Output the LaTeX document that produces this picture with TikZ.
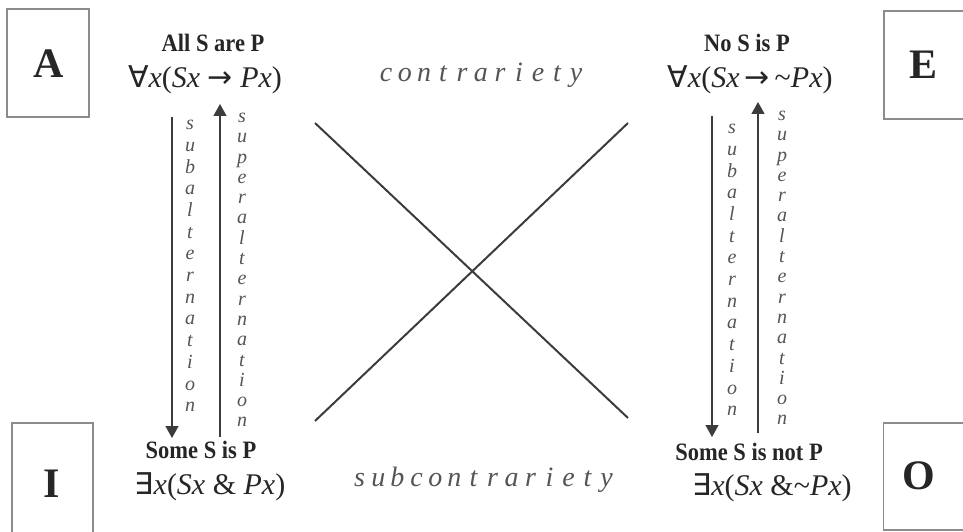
\documentclass[tikz,border=0pt]{standalone}
\usepackage{fontspec}
\usetikzlibrary{arrows.meta}
\setmainfont{Liberation Serif}
\newfontfamily\symfont{DejaVu Sans}
\definecolor{boxgray}{RGB}{140,140,140}
\definecolor{inkgray}{RGB}{60,60,60}
\definecolor{lettergray}{RGB}{85,85,85}
\newcommand{\spreadword}[1]{\foreach \ch in {#1}{\makebox[19pt]{\ch}}}

\begin{document}
\begin{tikzpicture}[x=1pt, y=-1pt, >={Triangle[width=13pt,length=12pt]},
	cornerbox/.style={draw=boxgray, line width=1.5pt, minimum width=82pt, minimum height=108pt, inner sep=0pt},
	cornerletter/.style={font=\fontsize{42}{42}\selectfont\bfseries, text=black!85, inner sep=0pt},
	statement/.style={font=\fontsize{25}{25}\selectfont\bfseries, text=black!85, inner sep=0pt, xscale=0.9},
	formula/.style={font=\fontsize{30}{30}\selectfont, text=black!85, inner sep=0pt},
	relation/.style={font=\fontsize{28}{28}\selectfont\itshape, text=lettergray, inner sep=0pt},
	vword/.style={font=\fontsize{20}{21.7}\selectfont\itshape, text=lettergray, align=center, inner sep=0pt},
	vline/.style={inkgray, line width=1.4pt},
	xline/.style={inkgray, line width=2pt}]
	
	\useasboundingbox (0,0) rectangle (963,532);
	
	% corner boxes
	\node[cornerbox] (boxA) at (48,63) {};
	\node[cornerbox] (boxE) at (925,65) {};
	\node[cornerbox, minimum width=81pt, minimum height=110pt] (boxI) at (52.5,478) {};
	\node[cornerbox, minimum height=107pt] (boxO) at (924.5,476.5) {};
	\node[cornerletter] (letA) at (49,64) {A};
	\node[cornerletter] (letE) at (923,65) {E};
	\node[cornerletter] (letI) at (52,484) {I};
	\node[cornerletter] (letO) at (919,476) {O};
	
	% statements
	\node[statement, transform shape] (textA) at (213,43) {All S are P};
	\node[statement, transform shape] (textE) at (747,43) {No S is P};
	\node[statement, transform shape] (textI) at (201,450) {Some S is P};
	\node[statement, transform shape] (textO) at (749,452) {Some S is not P};
	
	% formulas
	\node[formula] (formA) at (205,80) {{\symfont ∀}\textit{x}(\textit{Sx} {\symfont →} \textit{Px})};
	\node[formula] (formE) at (750,80) {{\symfont ∀}\textit{x}(\textit{Sx}\,{\symfont →}\,\textasciitilde\textit{Px})};
	\node[formula] (formI) at (210,487) {{\symfont ∃}\textit{x}(\textit{Sx} \& \textit{Px})};
	\node[formula] (formO) at (772,488) {{\symfont ∃}\textit{x}(\textit{Sx} \&\textasciitilde\textit{Px})};
	
	% relations
	\node[relation] (contra) at (481,75) {\spreadword{c,o,n,t,r,a,r,i,e,t,y}};
	\node[relation] (subcontra) at (483,480) {\spreadword{s,u,b,c,o,n,t,r,a,r,i,e,t,y}};
	
	% diagonals
	\coordinate (xA) at (315,123);
	\coordinate (xE) at (628,123);
	\coordinate (xI) at (315,421);
	\coordinate (xO) at (628,418);
	\draw[xline] (xA) -- (xO);
	\draw[xline] (xE) -- (xI);
	
	% sub- and superalternation arrows
	\coordinate (downAtop) at (172,117);
	\coordinate (downAbot) at (172,438);
	\coordinate (upAbot) at (220,437);
	\coordinate (upAtop) at (220,104);
	\coordinate (downEtop) at (712,116);
	\coordinate (downEbot) at (712,437);
	\coordinate (upEbot) at (758,433);
	\coordinate (upEtop) at (758,102);
	\draw[vline, ->] (downAtop) -- (downAbot);
	\draw[vline, ->] (upAbot) -- (upAtop);
	\draw[vline, ->] (downEtop) -- (downEbot);
	\draw[vline, ->] (upEbot) -- (upEtop);
	
	% vertical labels
	\node[vword] (subA) at (190,266) {s\\u\\b\\a\\l\\t\\e\\r\\n\\a\\t\\i\\o\\n};
	\node[vword, font=\fontsize{20}{20.3}\selectfont\itshape] (superA) at (242,270) {s\\u\\p\\e\\r\\a\\l\\t\\e\\r\\n\\a\\t\\i\\o\\n};
	\node[vword] (subE) at (732,270) {s\\u\\b\\a\\l\\t\\e\\r\\n\\a\\t\\i\\o\\n};
	\node[vword, font=\fontsize{20}{20.3}\selectfont\itshape] (superE) at (782,268) {s\\u\\p\\e\\r\\a\\l\\t\\e\\r\\n\\a\\t\\i\\o\\n};
	
\end{tikzpicture}
\end{document}
